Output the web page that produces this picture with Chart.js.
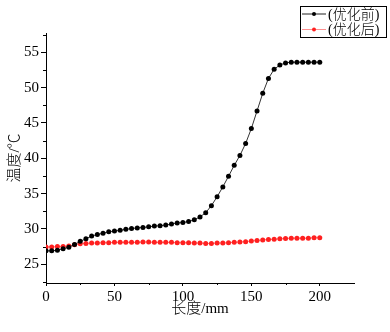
<!DOCTYPE html>
<html>
<head>
<meta charset="utf-8">
<script src="https://cdn.jsdelivr.net/npm/chart.js@4/dist/chart.umd.min.js"></script>
<style>
  html, body { margin: 0; padding: 0; background: #fff; }
  canvas { display: block; }
</style>
</head>
<body>
<canvas id="chart" width="390" height="332"></canvas>
<script>
// length along the part (mm), 49 sample positions
const lengths = [0, 4.17, 8.33, 12.5, 16.67, 20.83, 25, 29.17, 33.33, 37.5,
    41.67, 45.83, 50, 54.17, 58.33, 62.5, 66.67, 70.83, 75, 79.17,
    83.33, 87.5, 91.67, 95.83, 100, 104.17, 108.33, 112.5, 116.67, 120.83,
    125, 129.17, 133.33, 137.5, 141.67, 145.83, 150, 154.17, 158.33, 162.5,
    166.67, 170.83, 175, 179.17, 183.33, 187.5, 191.67, 195.83, 200];

// temperature before optimisation
const tempBefore = [26.9, 26.9, 27.0, 27.2, 27.4, 27.8, 28.25, 28.6, 29.0, 29.2,
    29.4, 29.6, 29.7, 29.8, 29.95, 30.05, 30.15, 30.2, 30.3, 30.4,
    30.45, 30.55, 30.7, 30.85, 30.9, 31.05, 31.3, 31.7, 32.3, 33.3,
    34.55, 35.95, 37.45, 39.0, 40.4, 42.1, 44.2, 46.7, 49.2, 51.3,
    52.6, 53.2, 53.5, 53.6, 53.6, 53.6, 53.6, 53.6, 53.6];

// temperature after optimisation
const tempAfter = [27.45, 27.45, 27.5, 27.5, 27.6, 27.75, 27.9, 27.95, 28.0, 28.0,
    28.05, 28.05, 28.1, 28.1, 28.1, 28.1, 28.1, 28.15, 28.15, 28.1,
    28.1, 28.1, 28.1, 28.05, 28.05, 28.05, 28.0, 28.0, 27.95, 27.95,
    28.0, 28.0, 28.05, 28.1, 28.15, 28.2, 28.3, 28.35, 28.45, 28.5,
    28.55, 28.6, 28.65, 28.7, 28.7, 28.7, 28.7, 28.75, 28.75];

const seriesLabels = ['(优化前)', '(优化后)'];
const xTitle = '长度/mm';
const yTitle = '温度/℃';

const FONT = "'Liberation Serif', 'Noto Sans CJK SC', serif";

function toPoints(xs, ys) {
    return xs.map((x, i) => ({x: x, y: ys[i]}));
}

// Origin style minor ticks, drawn through the scales
const pluginMinorTicks = {
    id: 'minorTicks',
    afterDraw(chart) {
        const ctx = chart.ctx;
        const xs = chart.scales.x;
        const ys = chart.scales.y;
        ctx.save();
        ctx.strokeStyle = '#000';
        ctx.lineWidth = 1;
        ctx.beginPath();
        for (let v = 25; v < xs.max; v += 50) {
            const px = Math.round(xs.getPixelForValue(v)) + 0.5;
            ctx.moveTo(px, xs.top);
            ctx.lineTo(px, xs.top + 2);
        }
        for (let v = 22.5; v < ys.max; v += 5) {
            if (v < ys.min) continue;
            const py = Math.round(ys.getPixelForValue(v)) + 0.5;
            ctx.moveTo(ys.right - 3, py);
            ctx.lineTo(ys.right, py);
        }
        ctx.stroke();
        ctx.restore();
    },
};

// boxed legend in the top right corner
const pluginBoxLegend = {
    id: 'boxLegend',
    afterDraw(chart) {
        const ctx = chart.ctx;
        const left = 300.5, top = 6.5, w = 86, h = 31;
        ctx.save();
        ctx.strokeStyle = '#000';
        ctx.lineWidth = 1;
        ctx.strokeRect(left, top, w, h);
        ctx.font = '300 14px ' + FONT;
        ctx.textBaseline = 'middle';
        ctx.textAlign = 'left';
        chart.data.datasets.forEach((ds, i) => {
            const y = 14 + i * 15.5;
            ctx.strokeStyle = ds.legendLine;
            ctx.beginPath();
            ctx.moveTo(302, y);
            ctx.lineTo(326, y);
            ctx.stroke();
            ctx.fillStyle = ds.pointBackgroundColor;
            ctx.beginPath();
            ctx.arc(314, y, 2, 0, Math.PI * 2);
            ctx.fill();
            ctx.fillStyle = '#000';
            ctx.fillText(ds.label, 328, y + 1);
        });
        ctx.restore();
    },
};

new Chart(document.getElementById('chart'), {
    type: 'line',
    data: {
        datasets: [
            {
                label: seriesLabels[0],
                data: toPoints(lengths, tempBefore),
                borderColor: '#333',
                legendLine: '#222',
                borderWidth: 1,
                pointRadius: 2.5,
                pointBorderWidth: 0,
                pointBackgroundColor: '#000',
                tension: 0,
            },
            {
                label: seriesLabels[1],
                data: toPoints(lengths, tempAfter),
                borderColor: '#ff7a7a',
                legendLine: '#ff9090',
                borderWidth: 1,
                pointRadius: 2.5,
                pointBorderWidth: 0,
                pointBackgroundColor: '#ff2020',
                tension: 0,
            },
        ],
    },
    options: {
        responsive: false,
        animation: false,
        devicePixelRatio: 1,
        layout: {padding: {top: 33, right: 36, left: 0, bottom: 0}},
        scales: {
            x: {
                type: 'linear',
                min: 0,
                max: 225,
                afterFit: (scale) => { scale.height = 49; },
                border: {display: true, color: '#000', width: 1},
                grid: {drawOnChartArea: false, drawTicks: true, tickLength: 3, color: '#000'},
                ticks: {
                    stepSize: 50,
                    includeBounds: false,
                    padding: 2,
                    color: '#000',
                    maxRotation: 0,
                    font: {family: FONT, size: 15},
                },
                title: {
                    display: true,
                    text: xTitle,
                    color: '#000',
                    font: {family: FONT, size: 15, weight: 300},
                    padding: {top: 0, bottom: 14},
                },
            },
            y: {
                type: 'linear',
                min: 22.35,
                max: 57.73,
                afterFit: (scale) => { scale.width = 46; },
                border: {display: true, color: '#000', width: 1},
                grid: {drawOnChartArea: false, drawTicks: true, tickLength: 5, color: '#000'},
                ticks: {
                    stepSize: 5,
                    includeBounds: false,
                    padding: 2,
                    color: '#000',
                    font: {family: FONT, size: 15},
                },
                title: {
                    display: true,
                    text: yTitle,
                    color: '#000',
                    font: {family: FONT, size: 15, weight: 300},
                    padding: {top: 6, bottom: 0},
                },
            },
        },
        plugins: {
            legend: {display: false},
            tooltip: {enabled: false},
        },
    },
    plugins: [pluginMinorTicks, pluginBoxLegend],
});
</script>
</body>
</html>
